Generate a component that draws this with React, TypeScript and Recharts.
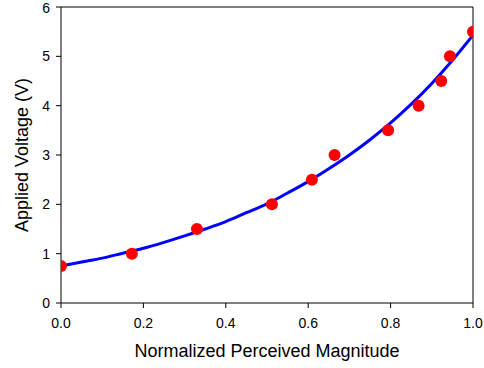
import { ComposedChart, Line, Scatter, XAxis, YAxis, ReferenceLine, Label } from 'recharts'

// measured points (normalized magnitude vs applied voltage)
const pointX = [0.0, 0.172, 0.33, 0.512, 0.609, 0.664, 0.794, 0.868, 0.923, 0.944, 1.0]
const pointY = [0.75, 1.0, 1.5, 2.0, 2.5, 3.0, 3.5, 4.0, 4.5, 5.0, 5.5]

// fitted curve
const curveX = [0, 0.05, 0.1, 0.15, 0.2, 0.25, 0.3, 0.35, 0.4, 0.45, 0.5, 0.55, 0.6, 0.65, 0.7, 0.75, 0.8, 0.85, 0.9, 0.95, 1.0]
const curveY = [0.75, 0.83, 0.91, 1.01, 1.11, 1.23, 1.36, 1.5, 1.65, 1.83, 2.01, 2.23, 2.46, 2.72, 3.0, 3.31, 3.65, 4.03, 4.45, 4.92, 5.43]

const xTicks = [0, 0.2, 0.4, 0.6, 0.8, 1.0]
const yTicks = [0, 1, 2, 3, 4, 5, 6]

const points = pointX.map((x, i) => ({ x, y: pointY[i] }))
const curve = curveX.map((x, i) => ({ x, y: curveY[i] }))

const FONT = 'Liberation Sans, Arial, sans-serif'
const tickStyle = { fontSize: 14, fill: '#000', fontFamily: FONT }

const Dot = (props: any) => <circle cx={props.cx} cy={props.cy} r={6} fill="#ff0000" />

const App = () => (
  <div style={{ position: 'absolute', left: 0, top: 0 }}>
    <ComposedChart width={484} height={368} margin={{ top: 7, right: 11, left: 0, bottom: 0 }}>
      <XAxis
        dataKey="x"
        type="number"
        domain={[0, 1]}
        ticks={xTicks}
        tickFormatter={(v: number) => v.toFixed(1)}
        allowDataOverflow
        height={65}
        stroke="#000"
        tick={tickStyle}
        tickSize={5}
        tickMargin={10}
      >
        <Label
          content={({ viewBox }: any) => (
            <text
              x={viewBox.x + viewBox.width / 2}
              y={viewBox.y + 54}
              textAnchor="middle"
              fontSize={18}
              fontFamily={FONT}
              fill="#000"
            >
              Normalized Perceived Magnitude
            </text>
          )}
        />
      </XAxis>
      <YAxis
        dataKey="y"
        type="number"
        domain={[0, 6]}
        ticks={yTicks}
        width={61}
        stroke="#000"
        tick={tickStyle}
        tickSize={5}
        tickMargin={6}
      >
        <Label
          content={({ viewBox }: any) => {
            const cx = 28
            const cy = viewBox.y + viewBox.height / 2
            return (
              <text
                x={cx}
                y={cy}
                transform={`rotate(-90, ${cx}, ${cy})`}
                textAnchor="middle"
                fontSize={18}
                fontFamily={FONT}
                fill="#000"
              >
                Applied Voltage (V)
              </text>
            )
          }}
        />
      </YAxis>
      <ReferenceLine y={6} stroke="#000" />
      <ReferenceLine x={1} stroke="#000" />
      <Line
        data={curve}
        dataKey="y"
        type="monotone"
        stroke="#0000ff"
        strokeWidth={3}
        dot={false}
        isAnimationActive={false}
      />
      <Scatter data={points} dataKey="y" shape={Dot} isAnimationActive={false} />
    </ComposedChart>
  </div>
)

export default App
